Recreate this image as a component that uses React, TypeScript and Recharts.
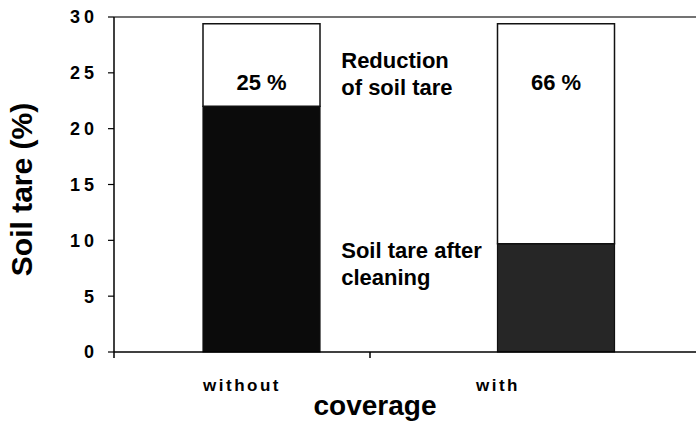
import { Bar, BarChart, Cell, Label, LabelList, ReferenceDot, ReferenceLine, XAxis, YAxis } from "recharts"

const categories = ["without", "with"]
const afterCleaning = [22, 9.7]
const reduction = [7.4, 19.7]
const reductionLabels = ["25 %", "66 %"]
const yTicks = [0, 5, 10, 15, 20, 25, 30]

const data = categories.map((name, i) => ({
  name,
  after: afterCleaning[i],
  reduction: reduction[i],
}))

const FONT = "'Liberation Sans', Arial, sans-serif"
const DARK = ["#0b0b0b", "#262626"]

// category label + a tick mark at the left edge of each band
function CoverageTick({ x, y, payload }: any) {
  const half = payload.offset ?? 128
  return (
    <g>
      <line x1={x - half} x2={x - half} y1={y - 6} y2={y} stroke="#000" strokeWidth={1.5} />
      <text x={x} y={y + 33} textAnchor="middle" fontFamily={FONT} fontSize={17} fontWeight="bold" letterSpacing={2.5} fill="#000">
        {payload.value}
      </text>
    </g>
  )
}

function YTitle({ viewBox }: any) {
  const cx = viewBox.x + 21
  const cy = viewBox.y + viewBox.height / 2 + 5
  return (
    <text x={cx} y={cy} transform={`rotate(-90, ${cx}, ${cy})`} textAnchor="middle" dominantBaseline="central" fontFamily={FONT} fontSize={30} fontWeight="bold" fill="#000">
      Soil tare (%)
    </text>
  )
}

function XTitle({ viewBox }: any) {
  return (
    <text x={viewBox.x + 261} y={viewBox.y + viewBox.height - 8} textAnchor="middle" fontFamily={FONT} fontSize={28} fontWeight="bold" fill="#000">
      coverage
    </text>
  )
}

function PercentLabel({ x, y, width, index }: any) {
  return (
    <text x={x + width / 2} y={y + 66} textAnchor="middle" fontFamily={FONT} fontSize={22} fontWeight="bold" fill="#000">
      {reductionLabels[index]}
    </text>
  )
}

function Note(lines: string[]) {
  return ({ viewBox }: any) => (
    <text x={viewBox.x + 80} y={viewBox.y} fontFamily={FONT} fontSize={22} fontWeight="bold" fill="#000">
      {lines.map((l, i) => (
        <tspan key={l} x={viewBox.x + 80} dy={i === 0 ? 0 : 27}>
          {l}
        </tspan>
      ))}
    </text>
  )
}

export default function App() {
  return (
    <div style={{ position: "absolute", top: 0, left: 0, width: 696, height: 423, overflow: "hidden", background: "#fff" }}>
      <BarChart width={703} height={423} data={data} margin={{ top: 17, right: 0, bottom: 0, left: 0 }}>
        <XAxis xAxisId="bars" dataKey="name" type="category" hide height={0} />
        <XAxis
          xAxisId="lab"
          dataKey="name"
          type="category"
          padding={{ left: 0, right: 77 }}
          height={71}
          tickSize={6}
          tickMargin={0}
          tickLine={false}
          tick={<CoverageTick />}
          axisLine={{ stroke: "#000", strokeWidth: 1.5 }}
          interval={0}
        >
          <Label content={XTitle} />
        </XAxis>
        <YAxis
          domain={[0, 30]}
          ticks={yTicks}
          width={114}
          tickSize={6}
          tickMargin={10}
          axisLine={{ stroke: "#000", strokeWidth: 1.5 }}
          tickLine={{ stroke: "#000", strokeWidth: 1.2 }}
          tick={{ fill: "#000", fontSize: 18, fontWeight: "bold", fontFamily: FONT, letterSpacing: 4 }}
          interval={0}
        >
          <Label content={YTitle} />
        </YAxis>
        <ReferenceLine y={30} xAxisId="bars" stroke="#444" strokeWidth={1.5} />
        <Bar xAxisId="bars" dataKey="after" stackId="s" barSize={117} stroke="#111" strokeWidth={1.2} isAnimationActive={false}>
          {data.map((_, i) => (
            <Cell key={`after-${i}`} fill={DARK[i]} />
          ))}
        </Bar>
        <Bar xAxisId="bars" dataKey="reduction" stackId="s" barSize={117} fill="#fff" stroke="#111" strokeWidth={1.5} isAnimationActive={false}>
          <LabelList content={PercentLabel} />
        </Bar>
        <ReferenceDot xAxisId="bars" x="without" y={25.4} r={0} fill="none" stroke="none" label={Note(["Reduction", "of soil tare"])} />
        <ReferenceDot xAxisId="bars" x="without" y={8.4} r={0} fill="none" stroke="none" label={Note(["Soil tare after", "cleaning"])} />
      </BarChart>
    </div>
  )
}
